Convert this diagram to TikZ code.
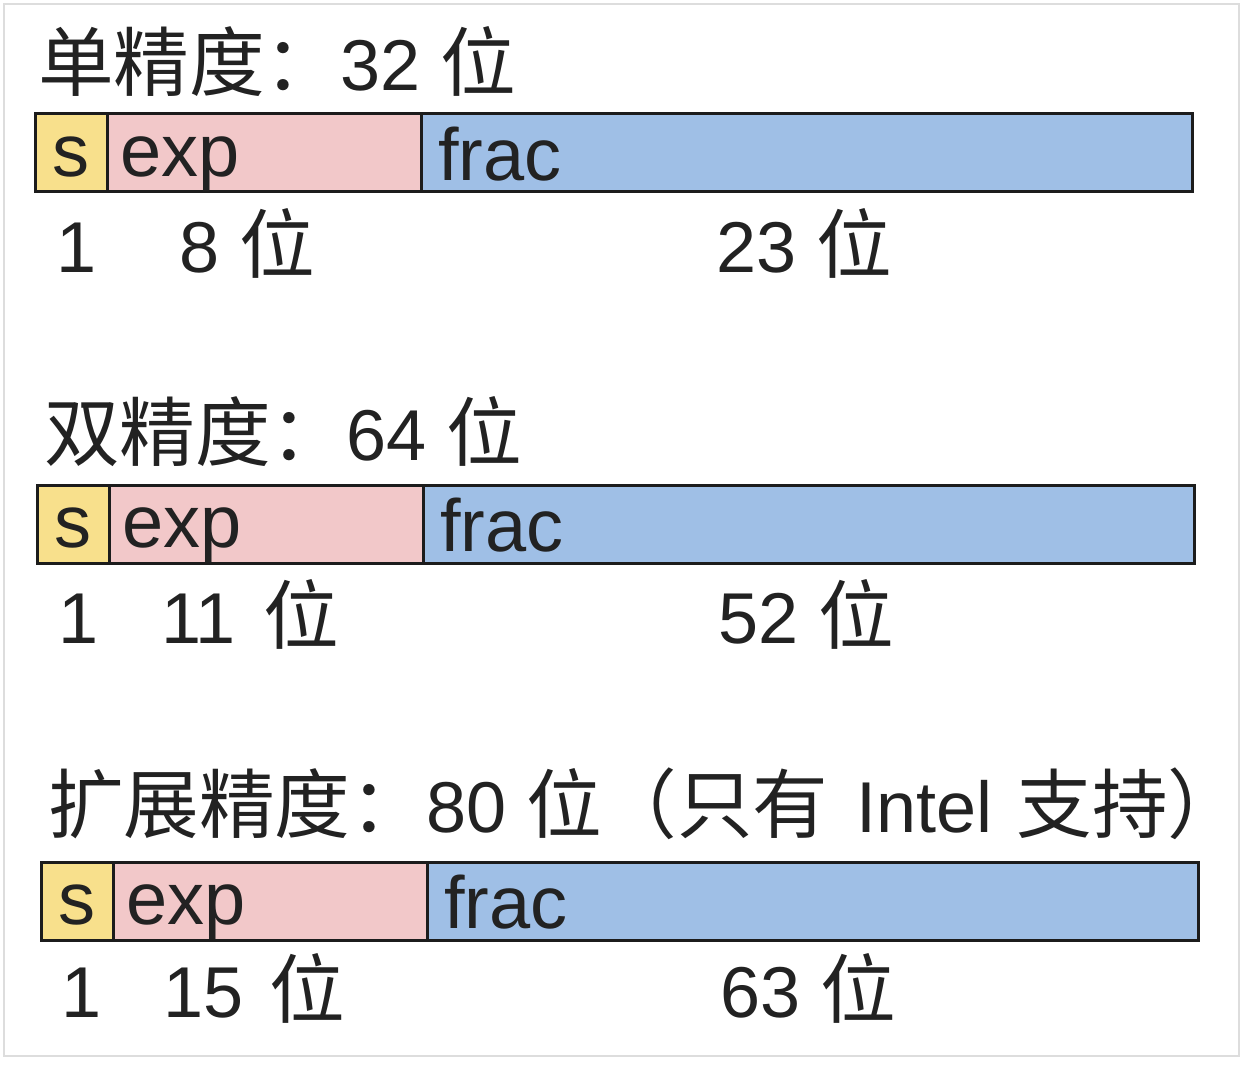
\documentclass[tikz,border=0pt]{standalone}
\usepackage{fontspec}
\setmainfont{Liberation Sans}
\newfontfamily\cj[Scale=1.05]{Noto Sans CJK SC}
\definecolor{sy}{HTML}{F8E08C}
\definecolor{sp}{HTML}{F2C8C9}
\definecolor{sb}{HTML}{9FBFE6}
\definecolor{edge}{HTML}{1C1C1C}
\definecolor{ink}{HTML}{222222}
\definecolor{framec}{HTML}{DDDDDD}
\newcommand\fpbar[3]{%
  \node[seg, fill=sy, minimum width=72pt] (#1s) at (#2,#3) {};
  \node[seg, fill=sp, minimum width=314pt] (#1e) at (#1s.north east) {};
  \node[seg, fill=sb, minimum width=771pt] (#1f) at (#1e.north east) {};
}
\begin{document}
\begin{tikzpicture}[x=1pt,y=-1pt,
  seg/.style={draw=edge, line width=3pt, inner sep=0pt, outer sep=0pt,
    minimum height=78pt, anchor=north west},
  txt/.style={anchor=base west, inner sep=0pt, outer sep=0pt, text=ink,
    font=\fontsize{72}{80}\selectfont},
  btxt/.style={txt, font=\fontsize{74}{80}\selectfont}]
\useasboundingbox (0,0) rectangle (1245,1080);
\draw[framec, line width=2pt] (4,4) rectangle (1239,1056);

% single precision
\node[txt] (t1) at (38,90) {{\cj 单精度：}32 {\cj 位}};
\fpbar{a}{35}{113}
\node[btxt, anchor=base] (as) at (71,176) {s};
\node[btxt] (ae) at (120,176) {exp};
\node[btxt] (af) at (438,180) {frac};
\node[txt] (a1) at (56,272) {1};
\node[txt] (a2) at (179,272) {8 {\cj 位}};
\node[txt] (a3) at (716,272) {23 {\cj 位}};

% double precision
\node[txt] (t2) at (44,460) {{\cj 双精度：}64 {\cj 位}};
\fpbar{b}{37}{485}
\node[btxt, anchor=base] (bs) at (73,547) {s};
\node[btxt] (be) at (122,547) {exp};
\node[btxt] (bf) at (440,551) {frac};
\node[txt] (b1) at (58,643) {1};
\node[txt] (b2) at (161,643) {11\hspace{28pt}{\cj 位}};
\node[txt] (b3) at (718,643) {52 {\cj 位}};

% extended precision
\node[txt] (t3) at (48,832) {{\cj 扩展精度：}80 {\cj 位（只有}\hspace{28pt}Intel\hspace{24pt}{\cj 支持\makebox[0.3em][l]{）}}};
\fpbar{c}{41}{862}
\node[btxt, anchor=base] (cs) at (77,924) {s};
\node[btxt] (ce) at (126,924) {exp};
\node[btxt] (cf) at (444,928) {frac};
\node[txt] (c1) at (61,1017) {1};
\node[txt] (c2) at (163,1017) {15\hspace{26pt}{\cj 位}};
\node[txt] (c3) at (720,1017) {63 {\cj 位}};
\end{tikzpicture}
\end{document}
